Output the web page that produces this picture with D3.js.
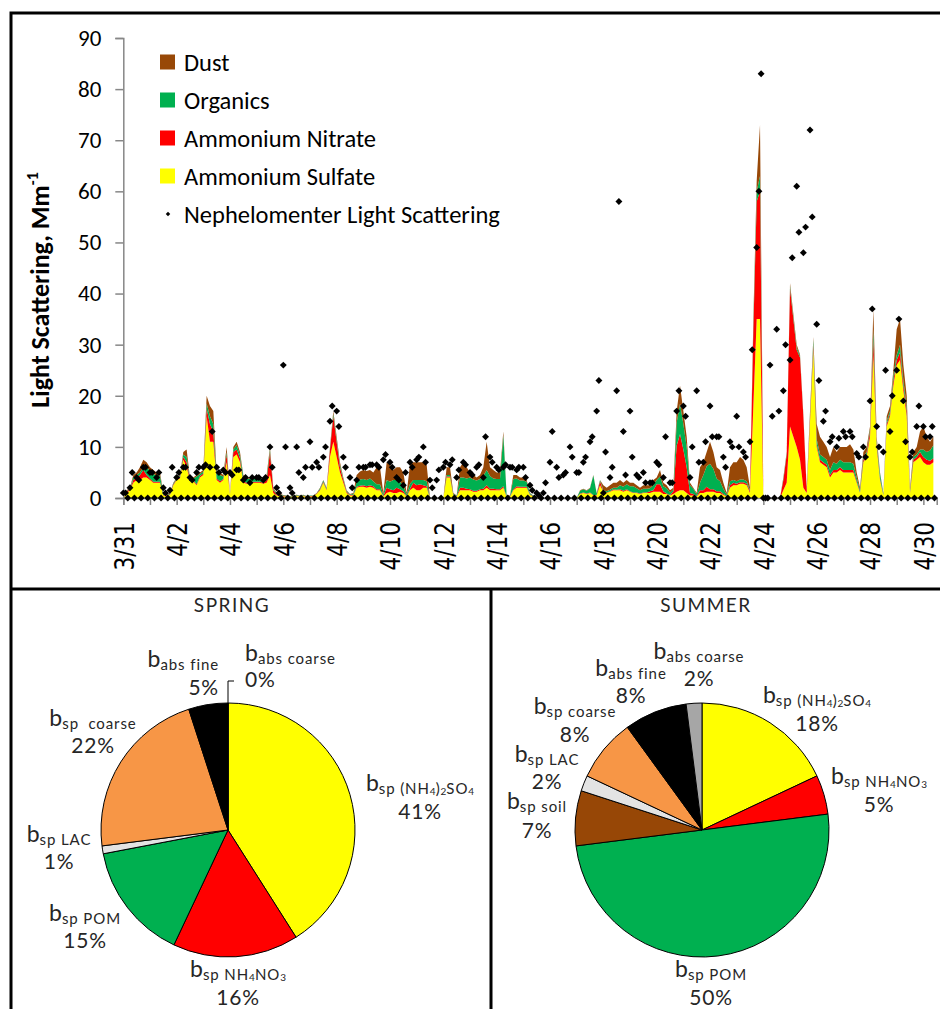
<!DOCTYPE html>
<html>
<head>
<meta charset="utf-8">
<script src="https://cdn.jsdelivr.net/npm/d3@7"></script>
<style>
  html, body { margin: 0; padding: 0; background: #fff; }
  svg { display: block; }
  text { white-space: pre; }
</style>
</head>
<body>
<svg id="chart" width="940" height="1009"></svg>
<script>
// ---- Light scattering budget, 3-hour steps starting 3/31 00:00 (Mm-1) ----
const budgetStepHours = 3;

const sulfate = [
  0,1,1.5,3,3.5,3.5,4,4,   3.5,3,3,3,.5,.5,.6,2.5,   3.5,3.8,7.5,6,3.5,3.3,2.5,4,
  4.5,16,11,11,3.5,3,3.5,7,   .7,8,8.5,7,3,2.8,3,3,   3,3,2.8,3,4.5,1,.5,.4,
  .3,.3,.2,.3,.4,.3,.4,.2,   .3,.3,.8,1.5,3,1.5,8,11,   8,5,3,1,.5,.5,2,2.2,
  2.2,2,2.2,2,1.5,1.5,.3,1,   1.2,1,1,1.2,1,.3,1.5,2,   1.5,1.5,2,2,0,0,0,0,
  0,4,4,.5,.3,1.5,1.5,1.5,   1.5,1.2,1.2,1.5,1.5,2,1.5,1.5,   1.5,1.5,2,.2,.2,1.5,2,2,
  2,2,.6,.3,.2,0,0,0,   0,0,0,0,0,0,0,0,   0,.8,1,.8,1,.5,.5,2.5,
  1.2,1,1.2,1.5,1.5,1.5,1.2,1.5,   1.2,1,1,.8,1,1,1,1.2,   1.2,1.2,.8,.8,.5,.8,1.2,1.5,
  1.5,1,.5,.5,.3,1,1,1.2,   1.2,1.2,1,1,.6,.3,2,2.5,   2.5,2.8,2.8,2.5,1,18,35,35,
  0,0,0,0,0,0,1.5,3,   14,12,10,7.5,2,1,15,29,   10,7,6.5,6,4,5,5,5.5,
  5,5,5,5,3,1,7,8,   12,28,10,3.5,.5,14,16,22,   26,27,21,16,1,7,7.5,8,
  7,6.5,6.5,7
];

const nitrate = [
  0,.3,.2,.5,.5,1,1.5,.5,   .3,.2,.2,.2,.1,.1,.1,.2,   .2,.2,.5,1,.2,.2,.2,.3,
  .3,1.5,3.5,2,.3,.3,.2,1.5,   .1,1,1,.8,.3,.2,.2,.2,   .2,.2,.2,.5,4.5,.5,.2,.1,
  .1,.05,.05,.1,.1,.05,.1,.05,   .1,.1,.1,.2,.2,.2,1.5,5,   3,1,.5,.2,.1,.1,.2,.2,
  .3,.3,.3,.3,.2,.2,.1,1,   .5,.5,1,.5,.3,.1,.3,1,   1,1.2,.5,.3,0,0,0,0,
  0,.2,.2,.1,.1,.5,.5,.3,   .2,.2,.2,.2,.3,.5,.3,.3,   .2,.2,.3,.1,.1,.2,.3,.2,
  .2,.2,.1,.1,.05,0,0,0,   0,0,0,0,0,0,0,0,   0,.1,.1,.1,.1,.1,.1,.8,
  .1,.1,.1,.2,.1,.2,.2,.2,   .1,.1,.1,.1,.1,.1,.3,.3,   1.5,1.5,.5,.1,.1,.5,9,11,
  8,5,.5,.3,.1,.5,.5,1,   .5,.5,.3,.3,.2,.1,.5,.5,   .3,.3,.3,.3,.3,15,23,25,
  0,0,0,0,0,0,2,5.5,   27,23,19,20,14,.5,1,1,   .5,.5,.5,.5,.5,.5,.5,.5,
  .5,.5,.5,.5,.3,.1,.5,.5,   1,3,.8,.3,.1,.5,.5,1,   1,1.5,1,1,.2,.5,.5,1,
  1,1,.8,.8
];

const organics = [
  0,.1,.1,.5,.5,.5,.5,1.5,   1.5,1.5,1.2,1.2,.2,.1,.1,.2,   .2,.3,.5,1,.2,.3,1.5,.4,
  .4,1,1.5,1.5,1,1.2,.5,.5,   .1,.5,.8,.6,1,.7,.6,.6,   .6,.6,.8,.7,.5,.2,.2,.2,
  .1,.1,.1,.1,.1,.1,.1,.1,   .1,.05,.05,.2,.2,.2,.3,.5,   .5,.5,.3,.2,.1,.2,1,1.2,
  1.2,1.2,1.3,1,1,1,.3,1.5,   1.5,2,1.5,1.5,1.2,.3,1,.5,   1,.8,1,1,0,0,0,0,
  0,.3,.3,.2,.1,2,2,2,   2.3,2.2,2,2,2.5,3,2.5,2,   2,2,10,.1,.1,2,1.5,1.2,
  1.2,1,.2,.1,.05,0,0,0,   0,0,0,0,0,0,0,0,   0,.5,.6,.5,.8,3.8,.3,.2,
  .2,.2,.3,.3,.4,.8,.8,1,   1,1.2,.8,.6,.7,.7,.6,1,   .8,1.5,1,1,.5,.4,4.5,6,
  5,4,1.5,1,.3,1.5,3,4,   5,4,2.5,2,1,.3,.8,.5,   .5,.5,.5,.5,.2,1,2,3,
  0,0,0,0,0,0,.3,.3,   .5,.5,.5,.3,.2,.2,.5,1,   1,1,1,1,1,1.5,1.2,1.5,
  1.5,1.5,1.5,1.2,.7,.3,.5,.5,   .5,2,.6,1,.2,.5,.5,1,   1,1.5,1,1,.3,.5,.5,.5,
  1.5,1.5,2,2.5
];

const dust = [
  0,.1,.2,.5,.5,1,1.5,1,   .7,.8,.6,.6,.2,.1,.2,.1,   .1,.2,.5,1.5,.1,.2,.3,.3,
  .3,1.5,2,2.5,.2,.5,.3,1,   .1,.5,.7,.6,.2,.3,.2,.2,   .2,.2,.2,.3,.5,.3,.1,.1,
  .1,.05,.05,.05,.05,.05,.05,.05,   0,.05,.05,.1,.1,.1,.2,.5,   .5,.5,.2,.1,.1,.2,1.3,1.6,
  1.8,1.8,1.7,1.7,3.3,3.3,.3,3.5,   3.3,2,2.5,2.8,2.5,.3,3.7,3.5,   3.5,3.5,3.5,3.2,0,0,0,0,
  0,1.5,1.5,.2,0,2,3,2.2,   1,.9,.6,.8,1.7,5.5,1.7,1.7,   1.3,1.3,.7,.1,.1,.8,.7,.6,
  .6,.3,.1,0,0,0,0,0,   0,0,0,0,0,0,0,0,   0,.1,.1,.1,.1,.1,.1,0,
  1,.7,.9,1,1,1,.8,.8,   .7,.7,.6,.5,.7,.7,.6,1,   .5,1.3,.7,.6,.4,.3,2.3,3.5,
  2.5,2,.5,.2,.3,3,2.5,2.8,   4.3,3.3,2.2,2.2,1.2,.3,2.7,3.5,   3.7,4.4,3.9,2.7,.5,1,2,10,
  0,0,0,0,0,0,.2,.2,   .5,.5,.5,.3,.2,.3,.5,.5,   3,3.5,3,2.5,2.5,3,2.3,2.5,
  3,3,3.5,2.8,1,.6,1,1,   .5,4,.6,.2,.2,1,1,1,   5,5,3,2,.5,1,1.5,3.5,
  4.5,3,1.7,1.7
];

// ---- Nephelometer light scattering, 2-hour steps starting 3/31 00:00 (Mm-1) ----
const nephStepHours = 2;
const nephelometer = [
  1,1,0,2,5,0,4,3.5,0,6,6,0,          5,5,0,4,5,0,2,1,0,1.5,6,0,
  4,5,0,6,6,0,4,3.5,0,5,6,0,          6,6.5,0,6,13,0,6,5,0,5.5,5,0,
  5,4.5,0,5.5,5.5,0,3.5,4,0,3,4,0,    4,4,0,3.5,4,0,10,6,0,2,1,0,
  26,10,0,2,1,0,10,5,0,4,6,0,         11,6,0,7,6,0,8,10,0,15,18,0,
  17,14,0,8,6,0,4,2,0,3.5,6,0,        6,6,0,6.5,6.5,0,6.5,6,0,7.5,8.5,0,
  7,6,0,4,3.5,0,2.5,5,0,7,6,0,        7.5,8,0,10,7,0,3.5,2,0,3.5,5.5,0,
  6,7,0,6.5,7.5,0,4,5.5,0,7,6.5,0,    5,4.5,0,6,6.5,0,4,12,0,8,7,0,
  6,5.5,0,6,6.5,0,6,6,0,5.5,6,0,      6,4,0,2.5,1.5,0,1,.5,0,1,3,0,
  7,13,0,6,4,0,4.5,5,0,10,8,0,        5,5,0,7,8,0,11,12,0,17,23,0,
  1,9,0,4,6,0,21,58,0,13,4.5,0,       17,8,0,4.5,4,0,5,3,0,3,3,0,
  7,6.5,0,4,12,0,3,3,0,17,21,0,       18,16,0,4,10,0,21,7,0,7,11,0,
  18,12,0,12,12,0,8,6,0,11,10,0,      16,10,0,9,8,0,11,29,0,49,60,83,
  0,0,0,26,16,0,33,17,0,21,30,0,      27,47,0,61,52,0,48,53,0,72,55,0,
  34,23,0,15,17,0,11,12,0,10,11.7,0,  13,12,0,13,12,0,8.7,8,0,10,8,0,
  19,37,0,14,10,0,9,25,0,13,20,0,     25,35,0,19,11,0,8,9,0,14,18,0,
  14,12,0,12,14,0
];

const seriesKeys   = ["sulfate", "nitrate", "organics", "dust"];
const seriesNames  = ["Ammonium Sulfate", "Ammonium Nitrate", "Organics", "Dust"];
const seriesColors = ["#ffff00", "#ff0000", "#00b050", "#984807"];
const nephName = "Nephelomenter Light Scattering";

const xTickLabels = ["3/31","4/2","4/4","4/6","4/8","4/10","4/12","4/14",
                     "4/16","4/18","4/20","4/22","4/24","4/26","4/28","4/30"];
const yTicks = [0, 10, 20, 30, 40, 50, 60, 70, 80, 90];

// ---- Seasonal extinction budgets (%) ----
const springNames  = ["sp (NH4)2SO4", "sp NH4NO3", "sp POM", "sp LAC", "sp  coarse", "abs fine", "abs coarse"];
const springValues = [41, 16, 15, 1, 22, 5, 0];
const springColors = ["#ffff00", "#ff0000", "#00b050", "#e3e3e3", "#f79646", "#000000", "#a6a6a6"];

const summerNames  = ["sp (NH4)2SO4", "sp NH4NO3", "sp POM", "sp soil", "sp LAC", "sp coarse", "abs fine", "abs coarse"];
const summerValues = [18, 5, 50, 7, 2, 8, 8, 2];
const summerColors = ["#ffff00", "#ff0000", "#00b050", "#974706", "#e3e3e3", "#f79646", "#000000", "#a6a6a6"];

// ================= drawing =================
const svg = d3.select("#chart");
const axisGray = "#878787";
const labelFont = "Carlito, Calibri, Lato, 'Open Sans', sans-serif";
const pieFont = "Lato, 'Noto Sans', sans-serif";

// --- scales ---
const x = d3.scaleLinear().domain([0, 30.5]).range([123.3, 936.7]);
const y = d3.scaleLinear().domain([0, 90]).range([498, 38]);

// --- stacked budget areas ---
const rows = sulfate.map((v, i) => ({
  t: i * budgetStepHours / 24,
  sulfate: v, nitrate: nitrate[i], organics: organics[i], dust: dust[i]
}));
const stacked = d3.stack().keys(seriesKeys)(rows);
const area = d3.area()
  .x(d => x(d.data.t))
  .y0(d => y(d[0]))
  .y1(d => y(d[1]));

svg.append("g").selectAll("path.layer")
  .data(stacked)
  .join("path")
  .attr("class", "layer")
  .attr("fill", (d, i) => seriesColors[i])
  .attr("d", area);

// --- axes ---
const yAxis = d3.axisLeft(y).tickValues(yTicks).tickSize(8).tickPadding(14);
const gy = svg.append("g").attr("transform", `translate(${x(0)},0)`).call(yAxis);
gy.select(".domain").attr("stroke", axisGray).attr("stroke-width", 1.5);
gy.selectAll(".tick line").attr("stroke", axisGray).attr("stroke-width", 1.5);
gy.selectAll(".tick text")
  .attr("font-family", labelFont).attr("font-size", 23).attr("fill", "#000");

const dayTicks = d3.range(0, 31);
const xAxis = d3.axisBottom(x).tickValues(dayTicks).tickSize(7)
  .tickFormat(d => (d % 2 === 0 ? xTickLabels[d / 2] : ""));
const gx = svg.append("g").attr("transform", `translate(0,${y(0)})`).call(xAxis);
gx.select(".domain").attr("stroke", axisGray).attr("stroke-width", 1.5);
gx.selectAll(".tick line").attr("stroke", axisGray).attr("stroke-width", 1.5);
gx.selectAll(".tick text")
  .attr("font-family", "'DejaVu Sans', Verdana, sans-serif")
  .attr("font-size", 27).attr("fill", "#000")
  .attr("text-anchor", "end")
  .attr("transform", "rotate(-90) scale(0.8,1)")
  .attr("x", -30).attr("y", 0).attr("dy", "0.36em");

// --- nephelometer points ---
const diamond = d3.symbol().type(d3.symbolSquare).size(24)();
svg.append("g").selectAll("path")
  .data(nephelometer)
  .join("path")
  .attr("d", diamond)
  .attr("fill", "#000")
  .attr("transform", (v, i) => `translate(${x(i * nephStepHours / 24)},${y(v)}) rotate(45)`);

// --- y title ---
const yTitle = svg.append("text")
  .attr("transform", "translate(49,290) rotate(-90)")
  .attr("text-anchor", "middle")
  .attr("font-family", labelFont).attr("font-weight", "bold").attr("font-size", 26);
yTitle.append("tspan").text("Light Scattering, Mm");
yTitle.append("tspan").attr("font-size", 16).attr("dy", -11).text("-1");

// --- legend (top of stack first) ---
const legend = svg.append("g").attr("font-family", labelFont).attr("font-size", 24.5);
const legendOrder = [3, 2, 1, 0];
legendOrder.forEach((si, row) => {
  const cy = 62 + row * 38;
  legend.append("rect").attr("x", 160).attr("y", cy - 7.5).attr("width", 15).attr("height", 15)
    .attr("fill", seriesColors[si]);
  legend.append("text").attr("x", 184).attr("y", cy).attr("dy", "0.35em").text(seriesNames[si]);
});
legend.append("path").attr("d", d3.symbol().type(d3.symbolSquare).size(10)())
  .attr("transform", `translate(168,${62 + 4 * 38}) rotate(45)`).attr("fill", "#000");
legend.append("text").attr("x", 184).attr("y", 62 + 4 * 38).attr("dy", "0.35em").text(nephName);

// --- panel frame ---
const frame = svg.append("g").attr("stroke", "#000").attr("stroke-width", 3).attr("fill", "none");
frame.append("path").attr("d", "M11,1009V13H940");
frame.append("path").attr("d", "M11,589H940");
frame.append("path").attr("d", "M491,589V1009");

// --- pie charts ---
const radius = 127;
const pieText = "#262626";

function addLabel(g, spec, name, pct) {
  const t = g.append("text").attr("x", spec.x).attr("y", spec.y1)
    .attr("text-anchor", spec.anchor).attr("fill", pieText);
  t.append("tspan").attr("font-size", 23).text("b");
  let off = 0;
  name.split(/(\d)/).filter(s => s.length).forEach(p => {
    const isDigit = /^\d$/.test(p);
    const target = isDigit ? 4 : 3;
    t.append("tspan")
      .attr("font-size", isDigit ? 10 : 15)
      .attr("letter-spacing", isDigit ? 0 : 0.9)
      .attr("dy", target - off)
      .text(p);
    off = target;
  });
  g.append("text").attr("x", spec.x).attr("y", spec.y2)
    .attr("text-anchor", spec.anchor).attr("fill", pieText)
    .attr("font-size", 21).attr("letter-spacing", 0.8).text(pct + "%");
}

function drawPie(cx, cy, title, names, values, colors, layout) {
  const g = svg.append("g").attr("font-family", pieFont);
  g.append("text").attr("x", cx + 4).attr("y", 612).attr("text-anchor", "middle")
    .attr("font-size", 19).attr("letter-spacing", 1.5).attr("fill", pieText).text(title);
  const slices = d3.pie().sort(null).value(d => d)(values);
  const arc = d3.arc().innerRadius(0).outerRadius(radius);
  g.append("g").attr("transform", `translate(${cx},${cy})`)
    .selectAll("path").data(slices).join("path")
    .attr("d", arc)
    .attr("fill", (d, i) => colors[i])
    .attr("stroke", "#000").attr("stroke-width", 1);
  slices.forEach((s, i) => {
    const spec = layout[i];
    if (spec.leader) {
      const a = s.startAngle;
      const px = cx + radius * Math.sin(a), py = cy - radius * Math.cos(a);
      g.append("path")
        .attr("d", `M${px},${py}V${py - 22}H${px + 6}`)
        .attr("fill", "none").attr("stroke", "#000").attr("stroke-width", 1);
    }
    addLabel(g, spec, names[i], values[i]);
  });
}

const springLayout = [
  { x: 420, y1: 791, y2: 819, anchor: "middle" },
  { x: 238, y1: 977, y2: 1005, anchor: "middle" },
  { x: 85,  y1: 921, y2: 948, anchor: "middle" },
  { x: 59,  y1: 842, y2: 869, anchor: "middle" },
  { x: 93,  y1: 726, y2: 753, anchor: "middle" },
  { x: 219, y1: 667, y2: 695, anchor: "end" },
  { x: 245, y1: 661, y2: 687, anchor: "start", leader: true }
];
const summerLayout = [
  { x: 817, y1: 703, y2: 731, anchor: "middle" },
  { x: 879, y1: 784, y2: 812, anchor: "middle" },
  { x: 711, y1: 977, y2: 1005, anchor: "middle" },
  { x: 537, y1: 809, y2: 838, anchor: "middle" },
  { x: 547, y1: 762, y2: 789, anchor: "middle" },
  { x: 575, y1: 714, y2: 742, anchor: "middle" },
  { x: 631, y1: 676, y2: 703, anchor: "middle" },
  { x: 699, y1: 659, y2: 686, anchor: "middle" }
];

drawPie(228, 830, "SPRING", springNames, springValues, springColors, springLayout);
drawPie(702, 830, "SUMMER", summerNames, summerValues, summerColors, summerLayout);
</script>
</body>
</html>
